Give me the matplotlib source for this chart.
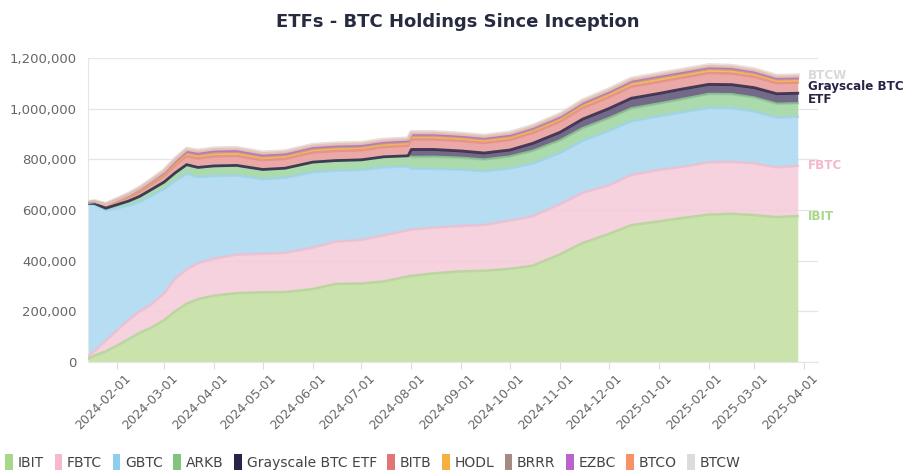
import numpy as np
import pandas as pd
import matplotlib
matplotlib.use("Agg")
import matplotlib.pyplot as plt
import matplotlib.dates as mdates
import matplotlib.transforms as mtransforms
from matplotlib.patches import Patch
from matplotlib.ticker import FuncFormatter, MultipleLocator

dates = ["2024-01-11", "2024-01-18", "2024-01-25", "2024-02-01", "2024-02-08", "2024-02-15",
         "2024-02-22", "2024-03-01", "2024-03-08", "2024-03-15", "2024-03-22", "2024-04-01",
         "2024-04-15", "2024-05-01", "2024-05-15", "2024-06-01", "2024-06-15", "2024-07-01",
         "2024-07-15", "2024-07-30", "2024-08-01", "2024-08-15", "2024-09-01", "2024-09-15",
         "2024-10-01", "2024-10-15", "2024-11-01", "2024-11-15", "2024-12-01", "2024-12-15",
         "2025-01-01", "2025-01-15", "2025-02-01", "2025-02-15", "2025-03-01", "2025-03-15",
         "2025-03-28"]

ibit = [3000, 25000, 42000, 65000, 90000, 115000, 135000, 165000, 200000, 230000, 248000, 262000,
        272000, 275000, 276000, 288000, 308000, 310000, 318000, 338000, 340000, 350000, 358000, 360000,
        368000, 380000, 425000, 470000, 505000, 540000, 555000, 568000, 582000, 585000, 580000, 572000,
        576000]
fbtc = [3000, 18000, 42000, 60000, 75000, 85000, 92000, 105000, 130000, 135000, 142000, 146000,
        152000, 152000, 155000, 163000, 167000, 172000, 182000, 182000, 183000, 180000, 179000, 181000,
        190000, 195000, 198000, 198000, 192000, 198000, 203000, 202000, 206000, 205000, 204000, 196000,
        198000]
gbtc = [619000, 578000, 514000, 482000, 452000, 432000, 428000, 412000, 385000, 378000, 340000, 326000,
        312000, 295000, 296000, 298000, 280000, 276000, 268000, 252000, 240000, 232000, 222000, 212000,
        206000, 208000, 202000, 205000, 215000, 212000, 212000, 215000, 215000, 212000, 205000, 196000,
        194000]
arkb = [1000, 5000, 9000, 14000, 18000, 22000, 25000, 28000, 32000, 36000, 38000, 40000,
        40000, 38000, 38000, 40000, 40000, 40000, 42000, 42000, 46000, 48000, 47000, 46000,
        47000, 50000, 50000, 50000, 50000, 51000, 50000, 52000, 55000, 55000, 55000, 55000,
        53000]
gs_mini = [0, 0, 0, 0, 0, 0, 0, 0, 0, 0, 0, 0,
           0, 0, 0, 0, 0, 0, 0, 0, 30000, 29000, 27000, 26000,
           26000, 30000, 32000, 36000, 38000, 40000, 40000, 40000, 38000, 38000, 39000, 40000,
           40000]
bitb = [500, 5000, 9000, 12000, 15000, 18000, 20000, 24000, 30000, 34000, 36000, 38000,
        38000, 37000, 37000, 38000, 38000, 38000, 39000, 40000, 40000, 40000, 40000, 40000,
        40000, 41000, 42000, 44000, 45000, 46000, 46000, 45000, 45000, 44000, 43000, 42000,
        42000]
hodl = [300, 1500, 2500, 3500, 4500, 5500, 6500, 7500, 9000, 10000, 10500, 11000,
        11000, 10500, 10500, 10500, 10500, 10000, 10000, 10000, 10000, 10000, 10000, 10000,
        10000, 10000, 10500, 11000, 11500, 12000, 12000, 11500, 11500, 11000, 10500, 10000,
        10000]
brrr = [200, 800, 1500, 2000, 2500, 3000, 3500, 4000, 4500, 5000, 5000, 5000,
        5000, 5000, 5000, 5000, 5000, 5000, 5000, 5000, 5000, 5000, 5000, 5000,
        5000, 5000, 5000, 5000, 5200, 5400, 5500, 5500, 5500, 5500, 5400, 5300,
        5300]
ezbc = [200, 800, 1500, 2000, 2500, 3000, 3200, 3500, 4000, 4500, 4800, 5000,
        5000, 4800, 4800, 4800, 4800, 4600, 4500, 4500, 4500, 4500, 4400, 4400,
        4400, 4400, 4500, 4600, 4700, 4800, 4800, 4800, 4800, 4700, 4600, 4500,
        4500]
btco = [100, 600, 1200, 1800, 2500, 3200, 4000, 5000, 6000, 6500, 7000, 7000,
        6800, 6500, 6500, 6500, 6300, 6200, 6000, 6000, 6000, 5800, 5800, 5800,
        5800, 5800, 5800, 5800, 5800, 5800, 5700, 5600, 5500, 5400, 5300, 5200,
        5200]
btcw = [100, 400, 800, 1200, 1500, 1800, 2000, 2200, 2500, 2800, 3000, 3000,
        3000, 3000, 3000, 3000, 3000, 3000, 3000, 3000, 3000, 3000, 3000, 3000,
        3000, 3000, 3100, 3200, 3300, 3400, 3500, 3500, 3500, 3500, 3500, 3500,
        3500]

names = ["IBIT", "FBTC", "GBTC", "ARKB", "Grayscale BTC ETF", "BITB", "HODL", "BRRR", "EZBC", "BTCO", "BTCW"]
series = [ibit, fbtc, gbtc, arkb, gs_mini, bitb, hodl, brrr, ezbc, btco, btcw]

legend_colors = ["#a8d68b", "#f5b8cc", "#8fcdef", "#80c480", "#2b2347", "#e07775",
                 "#f5b041", "#a38b80", "#b964cb", "#f89068", "#dcdcdc"]
fill_colors = ["#c6e1a6", "#f5cedb", "#b1dbf1", "#a4d8a6", "#665d7e", "#e9a19f",
               "#f6c27a", "#c7b8b0", "#cb8fd8", "#f8ae92", "#e7e1dd"]
line_colors = ["#afd594", "#f2bcce", "#9dd2f0", "#92cf94", "#2b2347", "#e48784",
               "#f5b041", "#b09b90", "#bd6bcc", "#f79270", "#ddd3cc"]

x = pd.to_datetime(dates)
vals = np.array(series, dtype=float)
cum = np.cumsum(vals, axis=0)

fig = plt.figure(figsize=(9.15, 4.70), dpi=100)
ax = fig.add_axes([88 / 915, 1 - 362 / 470, (818 - 88) / 915, (362 - 58) / 470])

lower = np.zeros(len(x))
for i in range(len(series)):
    ax.fill_between(x, lower, cum[i], color=fill_colors[i], alpha=0.92, lw=0, zorder=2)
    lower = cum[i]
for i in range(len(series)):
    if i == 4:
        ax.plot(x, cum[i], color=line_colors[i], lw=2.0, alpha=0.85, zorder=4,
                solid_joinstyle="round")
    elif i == 10:
        ax.plot(x, cum[i], color=line_colors[i], lw=3.0, alpha=0.7, zorder=4)
    else:
        ax.plot(x, cum[i], color=line_colors[i], lw=1.8, alpha=0.8, zorder=3)

ax.set_xlim(pd.Timestamp("2024-01-14"), pd.Timestamp("2025-04-09 12:00"))
ax.set_ylim(0, 1_200_000)
ax.yaxis.set_major_locator(MultipleLocator(200_000))
ax.yaxis.set_major_formatter(FuncFormatter(lambda v, p: f"{v:,.0f}"))
ax.grid(axis="y", color="#e6e6e6", lw=0.9, zorder=0)
ax.set_axisbelow(True)

ax.xaxis.set_major_locator(mdates.MonthLocator())
ax.xaxis.set_major_formatter(mdates.DateFormatter("%Y-%m-%d"))
ax.tick_params(axis="x", length=5, color="#dddddd", labelsize=9, labelcolor="#666666", pad=2)
ax.tick_params(axis="y", length=0, labelsize=9.5, labelcolor="#666666", pad=8)
offset = mtransforms.ScaledTranslation(5 / 72, 0, fig.dpi_scale_trans)
for lab in ax.get_xticklabels():
    lab.set_rotation(45)
    lab.set_ha("right")
    lab.set_va("top")
    lab.set_rotation_mode("anchor")
    lab.set_transform(lab.get_transform() + offset)

for s in ["top", "right"]:
    ax.spines[s].set_visible(False)
ax.spines["left"].set_color("#e6e6e6")
ax.spines["bottom"].set_color("#e6e6e6")

label_items = {0: ("IBIT", "#a8d68b"), 1: ("FBTC", "#f4b6cc"),
               4: ("Grayscale BTC\nETF", "#2b2347"), 10: ("BTCW", "#d9d9d9")}
for i, (txt, col) in label_items.items():
    ax.annotate(txt, xy=(x[-1], cum[i][-1]), xytext=(7.5, 0), textcoords="offset points",
                va="center", ha="left", fontsize=8.6, fontweight="bold", color=col,
                annotation_clip=False, linespacing=0.95)

fig.text(0.5, 1 - 22 / 470, "ETFs - BTC Holdings Since Inception", ha="center", va="center",
         fontsize=13, fontweight="bold", color="#262b40")

handles = [Patch(facecolor=c, edgecolor="none") for c in legend_colors]
fig.legend(handles, names, loc="center left", bbox_to_anchor=(0.006, 1 - 462 / 470), ncol=11,
           frameon=False, fontsize=10, handlelength=0.55, handleheight=1.3, handletextpad=0.35,
           columnspacing=0.75, labelcolor="#444444", borderaxespad=0, borderpad=0)

fig.savefig("out.png", dpi=100)
